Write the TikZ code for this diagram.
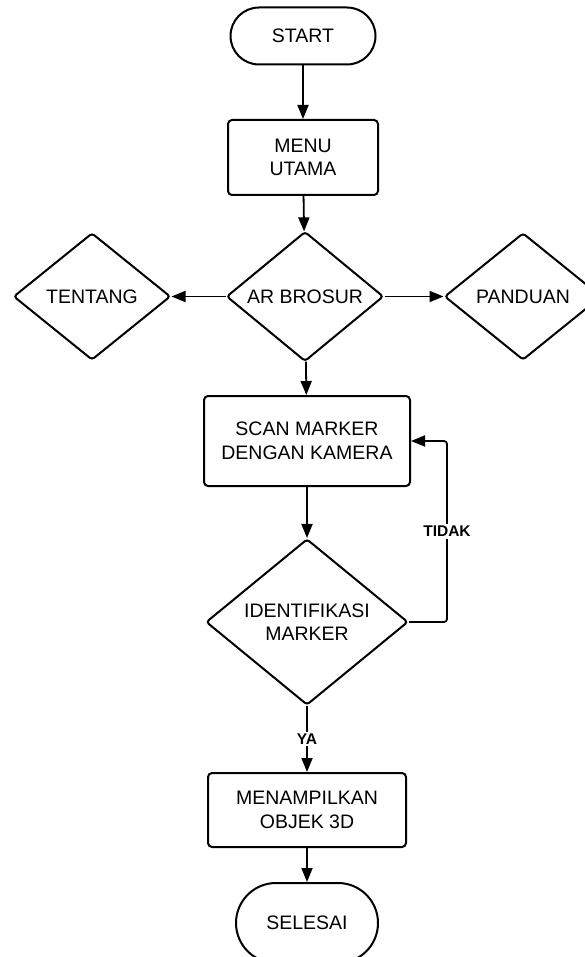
\documentclass[tikz,border=0pt]{standalone}
\usepackage{fontspec}
\setmainfont{Liberation Sans}
\usetikzlibrary{shapes.geometric,shapes.misc,arrows.meta}

\begin{document}
\begin{tikzpicture}[x=1pt,y=-1pt]
	\tikzset{base/.style={draw,line width=2pt,inner sep=0pt,align=center,font=\fontsize{19.5}{23.5}\selectfont},
		term/.style={base,rounded rectangle,minimum width=145pt,minimum height=57pt},
		proc/.style={base,rectangle,rounded corners=4pt},
		choice/.style={base,diamond,rounded corners=3pt},
		arr/.style={line width=1.8pt,-{Triangle[length=14pt,width=11pt]}},
		lbl/.style={fill=white,inner sep=2pt,font=\fontsize{15.5}{18}\selectfont\bfseries}}
	\fill[white] (0,0) rectangle (585,957);
	\useasboundingbox (0,0) rectangle (585,957);
	\node[term] (start) at (303, 36) {START};
	\node[proc,minimum width=150pt,minimum height=75pt] (menu) at (303, 157.5) {MENU\\UTAMA};
	\node[choice,minimum width=157pt,minimum height=124pt] (ar) at (305, 296.5) {AR BROSUR};
	\node[choice,minimum width=157pt,minimum height=127pt] (tentang) at (92, 296.5) {TENTANG};
	\node[choice,minimum width=157pt,minimum height=127pt] (panduan) at (523, 296.5) {PANDUAN};
	\node[proc,minimum width=206pt,minimum height=90pt] (scan) at (307, 441) {SCAN MARKER\\DENGAN KAMERA};
	\node[choice,minimum width=202pt,minimum height=166pt] (ident) at (307, 622) {IDENTIFIKASI\\MARKER};
	\node[proc,minimum width=198pt,minimum height=74pt] (tampil) at (307, 810) {MENAMPILKAN\\OBJEK 3D};
	\node[term,minimum width=142pt,minimum height=80pt] (selesai) at (307, 923) {SELESAI};
	\coordinate (loop) at (447, 622);
	\draw[arr] (start) -- (menu);
	\draw[arr] (menu) -- (ar);
	\draw[arr] (ar) -- (tentang);
	\draw[arr] (ar) -- (panduan);
	\draw[arr] (ar) -- (scan);
	\draw[arr] (scan) -- (ident);
	\draw[arr,rounded corners=3pt] (ident.east) -- (loop) |- node[lbl,pos=0.25] {TIDAK} (scan.east);
	\draw[arr] (ident) -- node[lbl] {YA} (tampil);
	\draw[arr] (tampil) -- (selesai);
\end{tikzpicture}
\end{document}
